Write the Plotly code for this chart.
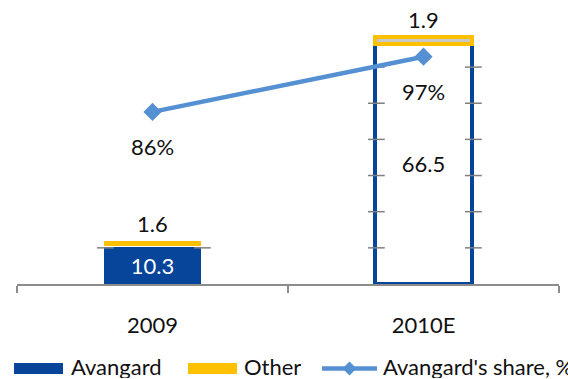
import plotly.graph_objects as go

# ---- data ----
categories = ["2009", "2010E"]
avangard = [10.3, 66.5]
other = [1.6, 1.9]
share = [0.86, 0.97]
share_labels = ["86%", "97%"]
grid_values = [10, 20, 30, 40, 50, 60]

BLUE = "#06459A"
YELLOW = "#FFC000"
LINE = "#5590D2"
GRAY = "#808080"
FONT = "Lato"
FS = 22

W, H = 568, 379
ML, MR, MT, MB = 17, 9, 2, 95
PW = W - ML - MR
PH = H - MT - MB

def px(xp):
    return (xp - ML) / PW

def py(yp):
    return (MT + PH - yp) / PH

xs = list(range(len(categories)))
bar_w = 0.358
totals = [a + o for a, o in zip(avangard, other)]

fig = go.Figure()

fig.add_trace(go.Bar(
    x=xs, y=avangard, width=bar_w, name="Avangard",
    marker=dict(color=[BLUE, "white"],
                line=dict(color=["white", BLUE], width=[1, 3.5])),
    text=[f"{v:.1f}" for v in avangard], textposition="inside",
    insidetextanchor="middle", textangle=0,
    textfont=dict(family=FONT, size=FS, color=["white", "#111111"]),
    constraintext="none",
))
fig.add_trace(go.Bar(
    x=xs, y=other, width=bar_w, name="Other",
    marker=dict(color=[YELLOW, "#C8C8C8"],
                line=dict(color=["white", YELLOW], width=[1, 4])),
))

# faint gridline fragments near bar edges
mx, my = [], []
for i, t in enumerate(totals):
    for g in grid_values:
        if g < t:
            for edge in (xs[i] - bar_w / 2, xs[i] + bar_w / 2):
                mx += [edge - 0.026, edge + 0.036, None]
                my += [g, g, None]
fig.add_trace(go.Scatter(x=mx, y=my, mode="lines",
                         line=dict(color=GRAY, width=1.5),
                         hoverinfo="skip"))

fig.add_trace(go.Scatter(
    x=xs, y=share, yaxis="y2", mode="lines+markers",
    name="Avangard's share, %",
    line=dict(color=LINE, width=4.5),
    marker=dict(symbol="diamond", size=14, color=LINE),
))

annotations = []
for i, t in enumerate(totals):
    annotations.append(dict(x=xs[i], y=t, xref="x", yref="y",
                            text=f"{other[i]:.1f}", showarrow=False,
                            yanchor="middle", yshift=17,
                            font=dict(family=FONT, size=FS, color="#111111")))
for i, s in enumerate(share):
    annotations.append(dict(x=xs[i], y=s, xref="x", yref="y2",
                            text=share_labels[i], showarrow=False,
                            yanchor="middle", yshift=-35,
                            font=dict(family=FONT, size=FS, color="#111111")))

# manual legend
shapes = []
leg_y0, leg_y1 = 363, 374
shapes.append(dict(type="rect", xref="paper", yref="paper",
                   x0=px(14), x1=px(63), y0=py(leg_y1), y1=py(leg_y0),
                   fillcolor=BLUE, line=dict(width=0)))
shapes.append(dict(type="rect", xref="paper", yref="paper",
                   x0=px(188), x1=px(237), y0=py(leg_y1), y1=py(leg_y0),
                   fillcolor=YELLOW, line=dict(width=0)))
ly = 368.5
shapes.append(dict(type="line", xref="paper", yref="paper",
                   x0=px(322), x1=px(377), y0=py(ly), y1=py(ly),
                   line=dict(color=LINE, width=4.5)))
cx, d = 349.5, 7
path = (f"M{px(cx-d)},{py(ly)} L{px(cx)},{py(ly-d)} "
        f"L{px(cx+d)},{py(ly)} L{px(cx)},{py(ly+d)} Z")
shapes.append(dict(type="path", xref="paper", yref="paper", path=path,
                   fillcolor=LINE, line=dict(width=0)))
for txt, xp in (("Avangard", 70), ("Other", 243), ("Avangard's share, %", 382)):
    annotations.append(dict(x=px(xp), y=py(379), xref="paper", yref="paper",
                            text=txt, showarrow=False, xanchor="left",
                            yanchor="bottom", height=24, valign="middle",
                            borderpad=0,
                            font=dict(family=FONT, size=FS, color="#111111")))

fig.update_layout(
    width=W, height=H,
    margin=dict(l=ML, r=MR, t=MT, b=MB),
    paper_bgcolor="white", plot_bgcolor="white",
    barmode="stack", showlegend=False,
    xaxis=dict(range=[-0.5, 1.5], tickvals=xs, ticktext=categories,
               ticks="", showgrid=False, zeroline=False,
               showline=True, linecolor="#8C8C8C", linewidth=2,
               ticklabelstandoff=21,
               tickfont=dict(family=FONT, size=FS, color="#111111"),
               minor=dict(tickmode="array", tickvals=[-0.5, 0.5, 1.5],
                          ticks="outside", ticklen=7, tickwidth=2,
                          tickcolor="#8C8C8C", showgrid=False)),
    yaxis=dict(range=[0, 78], visible=False, showgrid=False),
    yaxis2=dict(range=[0.517, 1.079], overlaying="y", visible=False,
                showgrid=False),
    annotations=annotations, shapes=shapes,
)

fig.write_html("out.html")
